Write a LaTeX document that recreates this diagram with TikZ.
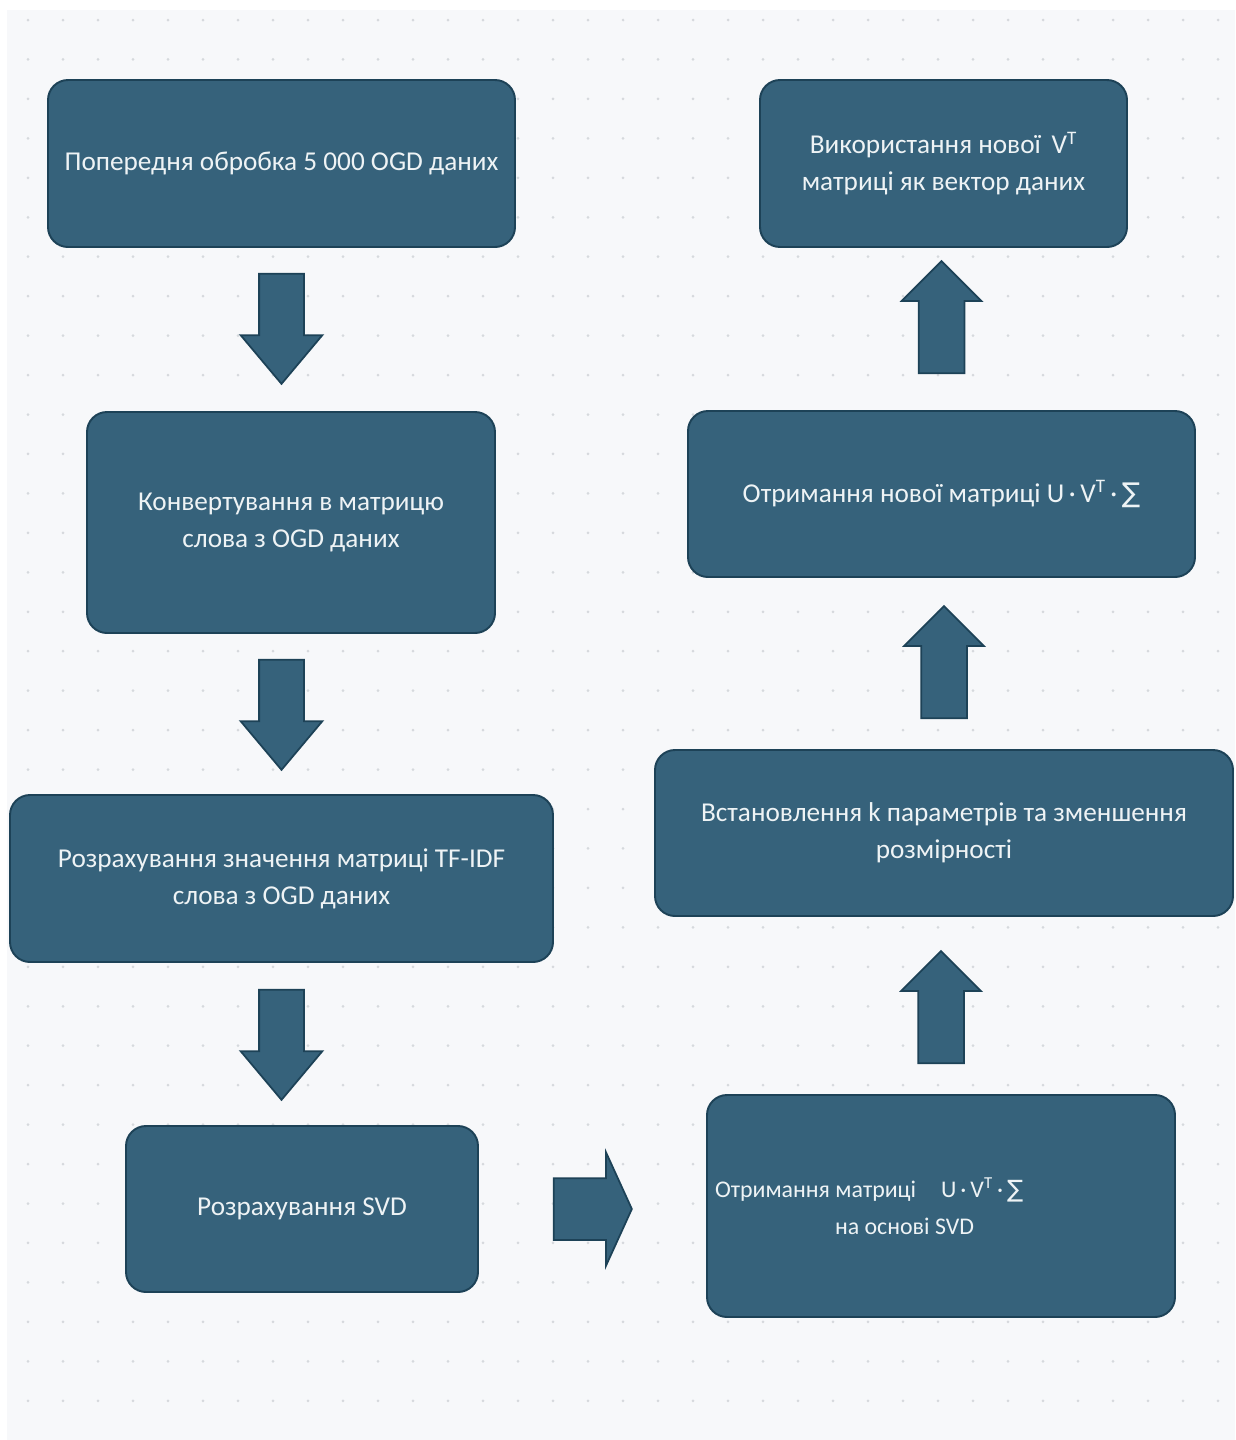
\documentclass[tikz,border=0pt]{standalone}
\usepackage{fontspec}
\setmainfont{Carlito}
\newfontfamily\symfnt{DejaVu Sans}
\usetikzlibrary{shapes.arrows,calc}

\definecolor{boxfill}{HTML}{36627B}
\definecolor{boxline}{HTML}{1D4257}
\definecolor{boxtext}{HTML}{EEF3F5}
\definecolor{canvas}{HTML}{F7F8FA}
\definecolor{griddot}{HTML}{D6D9DD}

\newcommand{\usvt}{U\,·\,V\textsuperscript{T}\,·\,{\symfnt ∑}}

\begin{document}
\begin{tikzpicture}[
	stepbox/.style={draw=boxline, line width=1.1pt, fill=boxfill, rounded corners=0.4cm,
		text=boxtext, align=center, inner sep=0pt, font=\fontsize{15.5}{21}\selectfont},
	blockarrow/.style={single arrow, draw=boxline, line width=1pt, fill=boxfill, inner xsep=0pt, anchor=tail},
	downarrow/.style={blockarrow, rotate=-90, minimum height=2.2cm, inner ysep=0.43cm,
		single arrow head extend=0.37cm, single arrow tip angle=80},
	uparrow/.style={blockarrow, rotate=90, minimum height=2.24cm, inner ysep=0.44cm,
		single arrow head extend=0.34cm, single arrow tip angle=90}
]
	\useasboundingbox (0,0) rectangle (24.7,-28.8);
	\fill[white] (0,0) rectangle (24.7,-28.8);
	\fill[canvas] (0.14,-0.2) rectangle (24.7,-28.8);
	\foreach \i in {0,...,34}
		\foreach \j in {0,...,35}
			\fill[griddot] (0.56+0.7*\i, -0.4-0.789*\j) circle (0.03);

	% left column
	\node[stepbox, minimum width=9.34cm, minimum height=3.34cm] (prep) at (5.63,-3.27)
		{Попередня обробка 5 000 OGD даних};
	\node[stepbox, minimum width=8.16cm, minimum height=4.42cm] (conv) at (5.82,-10.45)
		{Конвертування в матрицю\\слова з OGD даних};
	\node[stepbox, minimum width=10.86cm, minimum height=3.34cm] (tfidf) at (5.63,-17.57)
		{Розрахування значення матриці TF-IDF\\слова з OGD даних};
	\node[stepbox, minimum width=7.04cm, minimum height=3.32cm] (svd) at (6.04,-24.18)
		{Розрахування SVD};

	% right column
	\node[stepbox, font=\fontsize{13.6}{21}\selectfont, minimum width=9.36cm, minimum height=4.44cm,
		text width=9.04cm, align=flush left] (usv) at (18.82,-24.12)
		{Отримання матриці\hspace{0.5cm}\usvt\\\hspace*{2.4cm}на основі SVD};
	\node[stepbox, minimum width=11.56cm, minimum height=3.32cm] (kpar) at (18.88,-16.66)
		{Встановлення k параметрів та зменшення\\розмірності};
	\node[stepbox, minimum width=10.14cm, minimum height=3.32cm] (newm) at (18.83,-9.88)
		{Отримання нової матриці \usvt};
	\node[stepbox, minimum width=7.34cm, minimum height=3.34cm] (usevt) at (18.87,-3.27)
		{Використання нової \,V\textsuperscript{T}\\матриці як вектор даних};

	% arrows
	\node[downarrow] (a1) at ($(prep.south)+(0,-0.5)$) {};
	\node[downarrow] (a2) at ($(tfidf.north |- conv.south)+(0,-0.5)$) {};
	\node[downarrow] (a3) at ($(tfidf.south)+(0,-0.52)$) {};
	\node[blockarrow, minimum height=1.56cm, inner ysep=0.6cm,
		single arrow head extend=0.52cm, single arrow tip angle=131] (a4) at ($(svd.east)+(1.48,0)$) {};
	\node[uparrow] (a5) at ($(usv.north)+(0,0.6)$) {};
	\node[uparrow] (a6) at ($(kpar.north)+(0,0.6)$) {};
	\node[uparrow] (a7) at ($(newm.north)+(0,0.72)$) {};
\end{tikzpicture}
\end{document}
